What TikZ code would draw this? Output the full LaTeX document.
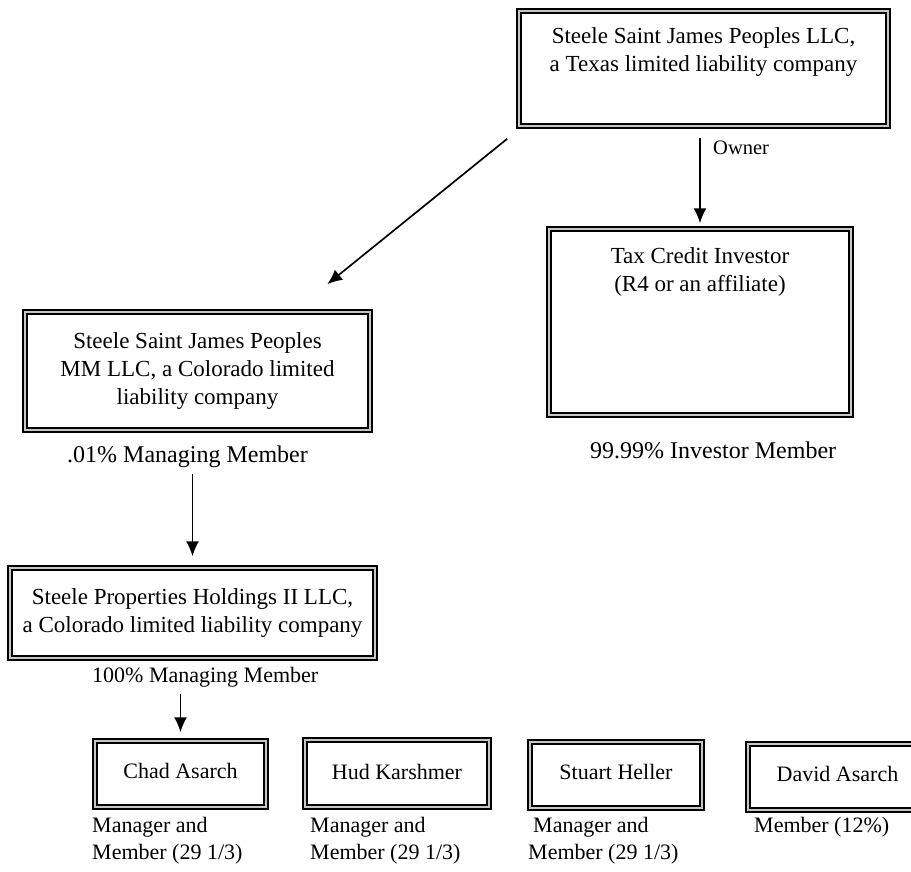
\documentclass[tikz,border=0pt]{standalone}
\usepackage{fontspec}
\setmainfont{Liberation Serif}
\usepackage{tikz}
\usetikzlibrary{arrows.meta,positioning}

\tikzset{
  frame/.style={draw=black, line width=1.5pt, double=gray!45, double distance=2.6pt, inner sep=0pt, align=center},
  txt/.style={inner sep=0pt, align=center},
  lbl/.style={inner sep=0pt, align=left},
  small/.style={font=\fontsize{22}{27}\selectfont},
  arr/.style={line width=1.7pt, -{Latex[length=15pt,width=13pt]}}
}

\begin{document}
\begin{tikzpicture}[x=1pt, y=-1pt, font=\fontsize{23}{28}\selectfont]
			%%%%% START %%%%%
			\useasboundingbox (0,0) rectangle (911,871);
			\clip (0,0) rectangle (911,871);
			
			% owner company
			\node[frame, minimum width=369pt, minimum height=115pt] (spjp) at (703.5,68.5) {};
			\node[txt, below=17pt of spjp.north] (spjp-t) {Steele Saint James Peoples LLC,\\a Texas limited liability company};
			
			% investor
			\node[frame, minimum width=302pt, minimum height=186pt] (tci) at (700,322) {};
			\node[txt, below=19pt of tci.north] (tci-t) {Tax Credit Investor\\(R4 or an affiliate)};
			\node[lbl, anchor=west, font=\fontsize{24}{28}\selectfont] (inv) at (590,450) {99.99\% Investor Member};
			
			% managing member
			\node[frame, minimum width=345pt, minimum height=118pt] (spjmm) at (197.5,371) {Steele Saint James Peoples\\MM LLC, a Colorado limited\\liability company};
			\node[lbl, anchor=west, font=\fontsize{24}{28}\selectfont] (mmlbl) at (67,457) {.01\% Managing Member};
			
			\node[frame, minimum width=365pt, minimum height=90pt] (sph) at (192.5,613) {Steele Properties Holdings II LLC,\\a Colorado limited liability company};
			\node[lbl, small, anchor=west] (pmlbl) at (92,677) {100\% Managing Member};
			
			% members
			\node[frame, small, minimum width=171pt, minimum height=66pt] (chad) at (180.5,774) {\raisebox{7pt}{Chad Asarch}};
			\node[frame, small, minimum width=184pt, minimum height=67pt] (hud) at (397,773.5) {\raisebox{4pt}{Hud Karshmer}};
			\node[frame, small, minimum width=172pt, minimum height=66pt] (stuart) at (616,775) {\raisebox{6pt}{Stuart Heller}};
			\node[frame, small, minimum width=179pt, minimum height=66pt] (david) at (837.5,777) {\raisebox{6pt}{David Asarch}};
			
			\node[lbl, small, anchor=north west] (chad-l) at (92,817) {Manager and\\Member (29 1/3)};
			\node[lbl, small, anchor=north west] (hud-l) at (310,817) {Manager and\\Member (29 1/3)};
			\node[lbl, small, anchor=north west] (stuart-l) at (528,817) {\hspace*{5pt}Manager and\\Member (29 1/3)};
			\node[lbl, small, anchor=north west] (david-l) at (754,817) {Member (12\%)};
			
			% arrows
			\draw[arr] ([xshift=-11pt,yshift=-12pt]spjp.south west) -- ([xshift=303pt,yshift=27pt]spjmm.north west);
			\draw[arr, shorten <=11pt, shorten >=5pt] (tci.north |- spjp.south) -- (tci.north);
			\node[lbl, anchor=west, font=\fontsize{20.5}{24}\selectfont] (owner) at (713,148) {Owner};
			\draw[arr, shorten <=43pt, shorten >=11pt] (sph.north |- spjmm.south) -- (sph.north);
			\draw[arr, shorten <=35pt, shorten >=8pt] (chad.north |- sph.south) -- (chad.north);
			
			%%%%% END %%%%%
\end{tikzpicture}
\end{document}
